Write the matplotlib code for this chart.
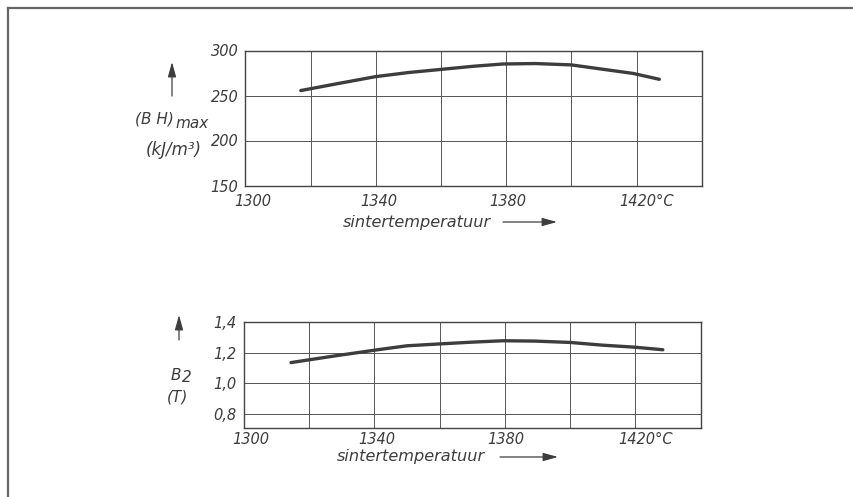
"""Sintertemperatuur vs (BH)max en B2 - recreated technical drawing."""

import matplotlib

matplotlib.use("Agg")
import matplotlib.pyplot as plt
from matplotlib.lines import Line2D

plt.rcParams["font.family"] = ["DejaVu Sans"]

# data
temp_bh = [1317, 1328, 1340, 1350, 1360, 1370, 1379, 1389, 1400, 1410, 1419, 1427]
bh_max = [255.5, 263, 271, 275.5, 279, 282.5, 285, 285.5, 284, 279, 274.5, 268]

temp_b2 = [1314.5, 1328, 1341, 1350, 1360.7, 1370, 1379.4, 1389, 1400, 1410, 1419.7, 1428.4]
b2 = [1.134, 1.178, 1.218, 1.244, 1.257, 1.268, 1.277, 1.275, 1.266, 1.248, 1.235, 1.218]

x_ticks = [1300, 1340, 1380, 1420]
x_tick_labels = ["1300", "1340", "1380", "1420°C"]
bh_ticks = [150, 200, 250, 300]
b2_ticks = [0.8, 1.0, 1.2, 1.4]
b2_tick_labels = ["0,8", "1,0", "1,2", "1,4"]

W, H = 854, 497
INK = "#3d3d3d"
GRID = "#555555"
FS = 10.5


def fx(x):
    return x / W


def fy(y):
    return 1 - y / H


def px_axes(left, top, right, bottom):
    return [fx(left), fy(bottom), (right - left) / W, (bottom - top) / H]


def label(x, y, s, size=FS, ha="center"):
    fig.text(fx(x), fy(y), s, ha=ha, va="center", fontsize=size,
             fontstyle="italic", color=INK)


def arrow(x0, y0, x1, y1):
    fig.add_artist(plt.Annotation("", xy=(fx(x1), fy(y1)), xycoords="figure fraction",
                                  xytext=(fx(x0), fy(y0)), textcoords="figure fraction",
                                  arrowprops=dict(arrowstyle="-|>,head_length=0.9,head_width=0.25",
                                                  color=INK, lw=0.9, mutation_scale=10,
                                                  shrinkA=0, shrinkB=0)))


fig = plt.figure(figsize=(W / 100, H / 100), dpi=100)
fig.patch.set_facecolor("white")

# frame around the drawing (left and top edges visible)
fig.add_artist(Line2D([fx(8), fx(8)], [fy(8), 0], color="#666666", lw=1.6))
fig.add_artist(Line2D([fx(8), 1], [fy(8), fy(8)], color="#666666", lw=1.6))

ax1 = fig.add_axes(px_axes(245.4, 50.5, 701.7, 185.5))
ax2 = fig.add_axes(px_axes(243.7, 322, 700.7, 428))

ax1.plot(temp_bh, bh_max, color=INK, lw=2.4, solid_capstyle="round")
ax2.plot(temp_b2, b2, color=INK, lw=2.4, solid_capstyle="round")

ax1.set_ylim(150, 300)
ax2.set_ylim(0.705, 1.4)
ax1.set_yticks(bh_ticks)
ax1.set_yticklabels([str(t) for t in bh_ticks])
ax2.set_yticks(b2_ticks)
ax2.set_yticklabels(b2_tick_labels)

for ax, label_off in ((ax1, -11.5), (ax2, -8)):
    ax.set_xlim(1300, 1440)
    ax.set_xticks(range(1300, 1441, 20))
    ax.set_xticklabels([])
    ax.grid(True, color=GRID, lw=0.7)
    ax.set_axisbelow(True)
    ax.tick_params(length=0, labelsize=FS, labelcolor=INK, pad=5)
    for lab in ax.get_yticklabels():
        lab.set_fontstyle("italic")
    for s in ax.spines.values():
        s.set_color("#444444")
        s.set_linewidth(1.0)
    offsets = [5, 2, 1, 7.5]
    for t, lab, dx in zip(x_ticks, x_tick_labels, offsets):
        ax.annotate(lab, xy=(t, 0), xycoords=("data", "axes fraction"),
                    xytext=(dx, label_off), textcoords="offset points",
                    ha="center", va="center", fontsize=FS, fontstyle="italic",
                    color=INK)

# x axis titles with arrows
for x0, y0, a0, a1 in ((343, 222, 503, 557), (337, 457, 500, 558)):
    label(x0, y0, "sintertemperatuur", size=11.6, ha="left")
    arrow(a0, y0, a1, y0)

# y axis titles with up arrows
arrow(172, 96, 172, 62)
arrow(179, 340, 179, 315)

label(154, 119, "(B H)", size=11)
label(192, 124, "max", size=11)
label(174, 150, "(kJ/m³)", size=12)
label(176, 376, "B", size=11)
label(187, 378, "2", size=11)
label(178, 397, "(T)", size=11)

fig.savefig("out.png", dpi=100, facecolor="white")
